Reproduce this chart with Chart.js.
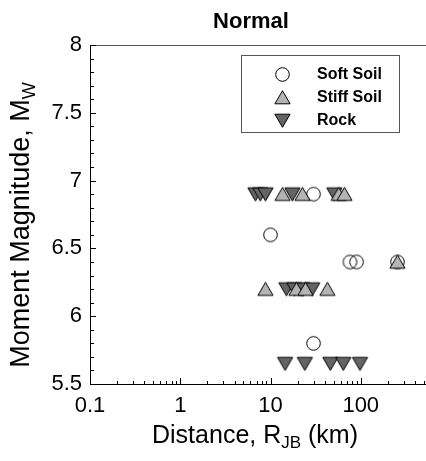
<!DOCTYPE html>
<html>
<head>
<meta charset="utf-8">
<script src="https://cdn.jsdelivr.net/npm/chart.js@4.4.1/dist/chart.umd.min.js"></script>
<style>
  html, body { margin: 0; padding: 0; background: #fff; overflow: hidden; width: 426px; height: 461px; }
  canvas { display: block; }
</style>
</head>
<body>
<canvas id="chart" width="460" height="461"></canvas>
<script>
// Distance (km) and moment magnitude for each site class
const softSoilDistance = [30, 10, 76, 90, 255, 30];
const softSoilMagnitude = [6.9, 6.6, 6.4, 6.4, 6.4, 5.8];

const stiffSoilDistance = [13.6, 22.6, 57, 66, 8.8, 19.4, 24.4, 42.7, 255];
const stiffSoilMagnitude = [6.9, 6.9, 6.9, 6.9, 6.2, 6.2, 6.2, 6.2, 6.4];

const rockDistance = [6.8, 7.7, 8.8, 17.5, 51, 15, 18.4, 22.6, 29, 14.5, 24, 46, 64, 98];
const rockMagnitude = [6.9, 6.9, 6.9, 6.9, 6.9, 6.2, 6.2, 6.2, 6.2, 5.65, 5.65, 5.65, 5.65, 5.65];

const seriesNames = ['Soft Soil', 'Stiff Soil', 'Rock'];
const xTickLabels = ['0.1', '1', '10', '100'];
const yTickLabels = ['5.5', '6', '6.5', '7', '7.5', '8'];

const FONT = "'Liberation Sans', Arial, Helvetica, sans-serif";

function pairs(xs, ys) { return xs.map((x, i) => ({ x: x, y: ys[i] })); }

// marker glyphs drawn onto small canvases
function marker(kind, fill) {
  const s = 19, c = document.createElement('canvas');
  c.width = s; c.height = s;
  const g = c.getContext('2d');
  const m = s / 2;
  g.lineWidth = 1;
  g.strokeStyle = '#000';
  g.beginPath();
  if (kind === 'circle') {
    g.arc(m, m, 6.8, 0, Math.PI * 2);
  } else if (kind === 'up') {
    g.moveTo(m, m - 6.8); g.lineTo(m + 7.6, m + 6.3); g.lineTo(m - 7.6, m + 6.3); g.closePath();
  } else {
    g.moveTo(m, m + 6.8); g.lineTo(m + 7.6, m - 6.3); g.lineTo(m - 7.6, m - 6.3); g.closePath();
  }
  if (fill) { g.fillStyle = fill; g.fill(); }
  g.stroke();
  return c;
}
const softMarker = marker('circle', null);
const stiffMarker = marker('up', '#b4b4b4');
const rockMarker = marker('down', '#646464');

const frameAndDecor = {
  id: 'frameAndDecor',
  afterDraw(chart) {
    const { ctx, chartArea: a, scales: { x, y } } = chart;
    ctx.save();
    // frame
    ctx.strokeStyle = '#000';
    ctx.lineWidth = 1;
    ctx.beginPath();
    ctx.moveTo(a.left + 0.5, a.top + 0.5);
    ctx.lineTo(a.left + 0.5, a.bottom + 0.5);
    ctx.lineTo(a.right + 0.5, a.bottom + 0.5);
    ctx.stroke();
    ctx.strokeStyle = '#555';
    ctx.beginPath();
    ctx.moveTo(a.left + 0.5, a.top + 0.5);
    ctx.lineTo(a.right + 0.5, a.top + 0.5);
    ctx.lineTo(a.right + 0.5, a.bottom + 0.5);
    ctx.stroke();

    // inward ticks on the distance axis (log decades)
    ctx.strokeStyle = '#000';
    ctx.beginPath();
    for (let d = -1; d <= 2; d++) {
      for (let k = 1; k <= 9; k++) {
        const v = k * Math.pow(10, d);
        const px = Math.round(x.getPixelForValue(v)) + 0.5;
        const len = k === 1 ? 6 : 3;
        ctx.moveTo(px, a.bottom);
        ctx.lineTo(px, a.bottom - len);
      }
    }
    // inward ticks on the magnitude axis
    for (let i = 0; i <= 25; i++) {
      const v = 5.5 + i * 0.1;
      const py = Math.round(y.getPixelForValue(v)) + 0.5;
      const len = i % 5 === 0 ? 6 : 4;
      ctx.moveTo(a.left, py);
      ctx.lineTo(a.left + len, py);
    }
    ctx.stroke();

    // title
    ctx.fillStyle = '#000';
    ctx.textBaseline = 'middle';
    ctx.textAlign = 'center';
    ctx.font = 'bold 22px ' + FONT;
    ctx.fillText('Normal', 251, 22);

    // axis titles with subscripts
    function subText(main, sub, tail, cx, cy, size) {
      const subSize = Math.round(size * 0.66);
      ctx.textAlign = 'left';
      ctx.font = size + 'px ' + FONT;
      const w1 = ctx.measureText(main).width;
      const w3 = ctx.measureText(tail).width;
      ctx.font = subSize + 'px ' + FONT;
      const w2 = ctx.measureText(sub).width;
      let sx = cx - (w1 + w2 + w3) / 2;
      ctx.font = size + 'px ' + FONT;
      ctx.fillText(main, sx, cy);
      sx += w1;
      ctx.font = subSize + 'px ' + FONT;
      ctx.fillText(sub, sx, cy + size * 0.3);
      sx += w2;
      ctx.font = size + 'px ' + FONT;
      ctx.fillText(tail, sx, cy);
    }
    subText('Distance, R', 'JB', ' (km)', 255, 436, 25);
    ctx.save();
    ctx.translate(22, 225);
    ctx.rotate(-Math.PI / 2);
    subText('Moment Magnitude, M', 'W', '', 0, 0, 27);
    ctx.restore();

    // legend box
    const lx = 241, ly = 55, lw = 158, lh = 77;
    ctx.fillStyle = '#fff';
    ctx.fillRect(lx, ly, lw, lh);
    ctx.strokeStyle = '#555';
    ctx.strokeRect(lx + 0.5, ly + 0.5, lw, lh);
    const marks = [softMarker, stiffMarker, rockMarker];
    ctx.fillStyle = '#000';
    ctx.font = 'bold 16px ' + FONT;
    ctx.textAlign = 'left';
    ctx.textBaseline = 'middle';
    seriesNames.forEach((name, i) => {
      const cy = 74 + i * 23;
      const m = marks[i];
      ctx.drawImage(m, Math.round(282 - m.width / 2), Math.round(cy - m.height / 2));
      ctx.fillText(name, 317, cy + 1);
    });
    ctx.restore();
  }
};

function isDecade(v) {
  const l = Math.log10(v);
  return Math.abs(l - Math.round(l)) < 1e-9;
}

new Chart(document.getElementById('chart'), {
  type: 'scatter',
  data: {
    datasets: [
      { label: seriesNames[1], data: pairs(stiffSoilDistance, stiffSoilMagnitude), pointStyle: stiffMarker, pointRadius: 8 },
      { label: seriesNames[2], data: pairs(rockDistance, rockMagnitude), pointStyle: rockMarker, pointRadius: 8 },
      { label: seriesNames[0], data: pairs(softSoilDistance, softSoilMagnitude), pointStyle: softMarker, pointRadius: 8 }
    ]
  },
  options: {
    responsive: false,
    animation: false,
    devicePixelRatio: 1,
    events: [],
    layout: { padding: { top: 45, right: 7, left: 0, bottom: 0 }, autoPadding: false },
    plugins: { legend: { display: false }, title: { display: false }, tooltip: { enabled: false } },
    scales: {
      x: {
        type: 'logarithmic',
        min: 0.1,
        max: 1000,
        grid: { display: false, drawTicks: false },
        border: { display: false },
        afterFit(s) { s.height = 77; },
        ticks: {
          autoSkip: false,
          maxRotation: 0,
          padding: 9,
          color: '#000',
          font: { family: FONT, size: 22 },
          callback(v) {
            if (!isDecade(v)) return '';
            const lbl = xTickLabels.find(t => Math.abs(parseFloat(t) - v) < 1e-9);
            return lbl || '';
          }
        }
      },
      y: {
        min: 5.5,
        max: 8,
        grid: { display: false, drawTicks: false },
        border: { display: false },
        afterFit(s) { s.width = 90; },
        ticks: {
          stepSize: 0.5,
          padding: 8,
          color: '#000',
          font: { family: FONT, size: 22 },
          callback(v) {
            const lbl = yTickLabels.find(t => Math.abs(parseFloat(t) - v) < 1e-9);
            return lbl || '';
          }
        }
      }
    }
  },
  plugins: [frameAndDecor]
});
</script>
</body>
</html>
